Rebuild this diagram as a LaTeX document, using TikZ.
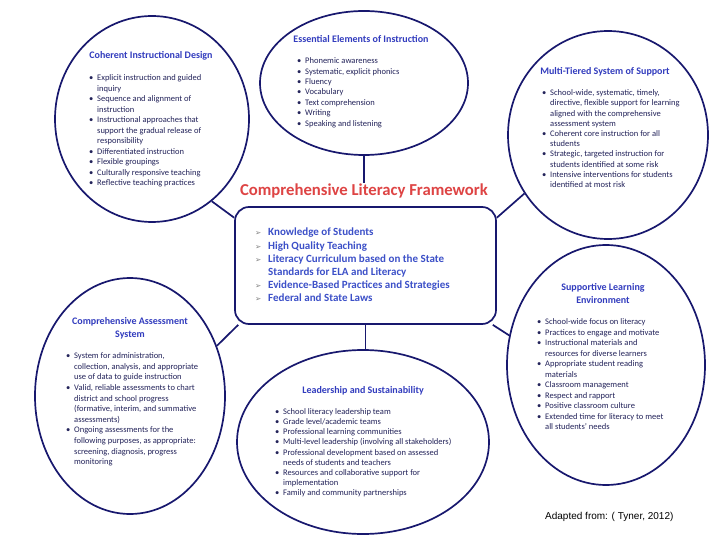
\documentclass[tikz,border=0pt]{standalone}
\usepackage{fontspec}
\setmainfont{Carlito}
\newfontfamily\dingfont{DejaVu Sans}
\newfontfamily\creditfont{Liberation Sans}
\usetikzlibrary{shapes.geometric}
\definecolor{navy}{RGB}{24,24,110}
\definecolor{headblue}{RGB}{50,60,190}
\definecolor{txtnavy}{RGB}{35,35,90}
\definecolor{titlered}{RGB}{222,68,68}
\definecolor{boxblue}{RGB}{60,80,200}
\newcommand{\bul}{\makebox[8pt][l]{\textbullet}}
\newcommand{\bulind}{\hspace*{8pt}}
\newcommand{\arw}{\makebox[13pt][l]{{\dingfont\fontsize{7.5}{7.5}\selectfont\color{gray}➢}}}
\newcommand{\arwind}{\hspace*{13pt}}

\begin{document}
\begin{tikzpicture}[x=1pt, y=-1pt,
  ring/.style={draw=navy, line width=1.7pt, ellipse, inner sep=0pt},
  head/.style={font=\bfseries\fontsize{10}{13}\selectfont, text=headblue, align=center},
  items/.style={font=\fontsize{8.5}{10.5}\selectfont, text=txtnavy, align=left, anchor=north west, inner sep=0pt},
  link/.style={draw=navy, line width=1.7pt}]
  \useasboundingbox (0,0) rectangle (720,540);
  \fill[white] (0,0) rectangle (720,540);

  % the six circles round the frame
  \node[ring, minimum width=194pt, minimum height=206pt] (cid) at (152,119) {};
  \node[ring, minimum width=208pt, minimum height=144pt] (eei) at (364,83) {};
  \node[ring, minimum width=200pt, minimum height=208pt] (mtss) at (608,135) {};
  \node[ring, minimum width=190pt, minimum height=236pt] (cas) at (130,396) {};
  \node[ring, minimum width=252pt, minimum height=184pt] (ls) at (363,442) {};
  \node[ring, minimum width=198pt, minimum height=240pt] (sle) at (606,365) {};

  \node[draw=navy, line width=1.7pt, rounded corners=14pt, minimum width=261pt,
    minimum height=117pt] (box) at (365.5,265.5) {};
  \node[font=\bfseries\fontsize{16.7}{19}\selectfont, text=titlered, inner sep=1pt]
    (title) at (364,191) {Comprehensive Literacy Framework};

  % connectors
  \draw[link] (eei.south) -- (title.north);
  \draw[link] (cid.-54) -- (box.160);
  \draw[link] (mtss.-145) -- (box.20);
  \draw[link] (cas.30) -- (box.205);
  \draw[link] (sle.163) -- (box.-25);
  \draw[link] (box.south) -- (box.south |- ls.north);

  % centre list
  \node[items, font=\bfseries\fontsize{11}{13.2}\selectfont, text=boxblue] (boxlist) at (255,228)
    {\arw Knowledge of Students\\ \arw High Quality Teaching\\
     \arw Literacy Curriculum based on the State\\ \arwind Standards for ELA and Literacy\\
     \arw Evidence-Based Practices and Strategies\\ \arw Federal and State Laws};

  % headings
  \node[head] (cidhead) at (151,56) {Coherent Instructional Design};
  \node[head] (eeihead) at (361,39) {Essential Elements of Instruction};
  \node[head] (mtsshead) at (605,72) {Multi-Tiered System of Support};
  \node[head] (slehead) at (603,294) {Supportive Learning\\ Environment};
  \node[head] (cashead) at (130,328) {Comprehensive Assessment\\ System};
  \node[head] (lshead) at (363,391) {Leadership and Sustainability};

  % bullet lists
  \node[items] (cidlist) at (89,74.5)
    {\bul Explicit instruction and guided\\ \bulind inquiry\\
     \bul Sequence and alignment of\\ \bulind instruction\\
     \bul Instructional approaches that\\ \bulind support the gradual release of\\ \bulind responsibility\\
     \bul Differentiated instruction\\ \bul Flexible groupings\\
     \bul Culturally responsive teaching\\ \bul Reflective teaching practices};
  \node[items, font=\fontsize{8.5}{10.4}\selectfont] (eeilist) at (297,57.5)
    {\bul Phonemic awareness\\ \bul Systematic, explicit phonics\\ \bul Fluency\\
     \bul Vocabulary\\ \bul Text comprehension\\ \bul Writing\\ \bul Speaking and listening};
  \node[items, font=\fontsize{8.5}{10.2}\selectfont] (mtsslist) at (542,89.5)
    {\bul School-wide, systematic, timely,\\ \bulind directive, flexible support for learning\\
     \bulind aligned with the comprehensive\\ \bulind assessment system\\
     \bul Coherent core instruction for all\\ \bulind students\\
     \bul Strategic, targeted instruction for\\ \bulind students identified at some risk\\
     \bul Intensive interventions for students\\ \bulind identified at most risk};
  \node[items] (slelist) at (537,318.5)
    {\bul School-wide focus on literacy\\ \bul Practices to engage and motivate\\
     \bul Instructional materials and\\ \bulind resources for diverse learners\\
     \bul Appropriate student reading\\ \bulind materials\\
     \bul Classroom management\\ \bul Respect and rapport\\ \bul Positive classroom culture\\
     \bul Extended time for literacy to meet\\ \bulind all students' needs};
  \node[items, font=\fontsize{8.5}{10.6}\selectfont] (caslist) at (66,352.5)
    {\bul System for administration,\\ \bulind collection, analysis, and appropriate\\
     \bulind use of data to guide instruction\\
     \bul Valid, reliable assessments to chart\\ \bulind district and school progress\\
     \bulind (formative, interim, and summative\\ \bulind assessments)\\
     \bul Ongoing assessments for the\\ \bulind following purposes, as appropriate:\\
     \bulind screening, diagnosis, progress\\ \bulind monitoring};
  \node[items, font=\fontsize{8.5}{10.1}\selectfont] (lslist) at (275,408.5)
    {\bul School literacy leadership team\\ \bul Grade level/academic teams\\
     \bul Professional learning communities\\
     \bul Multi-level leadership (involving all stakeholders)\\
     \bul Professional development based on assessed\\ \bulind needs of students and teachers\\
     \bul Resources and collaborative support for\\ \bulind implementation\\
     \bul Family and community partnerships};

  \node[font=\creditfont\fontsize{10}{12}\selectfont, anchor=west, inner sep=0pt] (credit) at (545,517)
    {Adapted from: ( Tyner, 2012)};
\end{tikzpicture}
\end{document}
